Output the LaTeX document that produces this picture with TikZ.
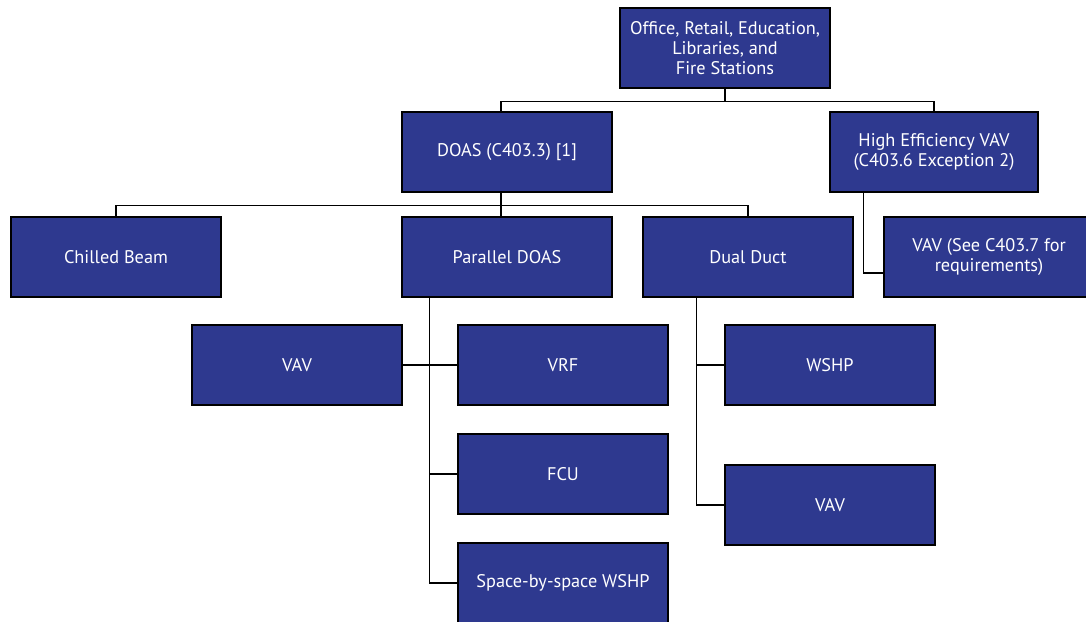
\documentclass[tikz,border=0pt]{standalone}
\usepackage{fontspec}
\setmainfont{PT Sans}
\usetikzlibrary{positioning, calc}
\definecolor{boxblue}{RGB}{46,57,143}
\tikzset{
  unitbox/.style={
    rectangle, draw=black, fill=boxblue, line width=0.9pt, minimum width=5.25cm,
    minimum height=2cm, align=center, text=white, font=\fontsize{13}{14}\selectfont,
    inner sep=2pt
  },
  link/.style={line width=0.8pt, draw=black}
}

\begin{document}
\begin{tikzpicture}[x=0.025cm, y=-0.025cm]
    \useasboundingbox (0,0) rectangle (1086,621);
    % top level
    \node[unitbox] (top) at (725,48) {Office, Retail, Education,\\Libraries, and\\Fire Stations};
    \node[unitbox] (doas) at (507,152) {DOAS (C403.3) [1]};
    \node[unitbox, minimum width=5.2cm] (hevav) at (934,152) {High Efficiency VAV\\(C403.6 Exception 2)};
    % second level
    \node[unitbox] (beam) at (116,257) {Chilled Beam};
    \node[unitbox] (pdoas) at (507,257) {Parallel DOAS};
    \node[unitbox] (dduct) at (748,257) {Dual Duct};
    \node[unitbox] (vavreq) at (989,257) {VAV (See C403.7 for\\requirements)};
    % third level
    \node[unitbox] (vavl) at (297,365) {VAV};
    \node[unitbox] (vrf) at (563,365) {VRF};
    \node[unitbox] (fcu) at (563,474) {FCU};
    \node[unitbox] (wshpss) at (563,583) {Space-by-space WSHP};
    \node[unitbox] (wshp) at (830,365) {WSHP};
    \node[unitbox] (vavr) at (830,505) {VAV};
    % connectors
    \draw[link] (top.south) -- ++(0,13) coordinate (j1);
    \draw[link] (j1) -| ($(doas.north)+(-6,0)$);
    \draw[link] (j1) -| (hevav.north);
    \draw[link] ($(doas.south)+(-6,0)$) -- ++(0,13) coordinate (j2);
    \draw[link] (j2) -| (beam.north);
    \draw[link] (j2) -- ($(pdoas.north)+(-6,0)$);
    \draw[link] (j2) -| (dduct.north);
    \coordinate (j3) at ($(hevav.south west)+(34,0)$);
    \draw[link] (j3) |- ($(vavreq.west)+(0,16)$);
    \coordinate (j4) at ($(pdoas.south west)+(28,0)$);
    \draw[link] (j4) |- (wshpss.west);
    \draw[link] (vavl.east) -- (vrf.west);
    \draw[link] (j4 |- fcu.west) -- (fcu.west);
    \coordinate (j5) at ($(dduct.south west)+(54,0)$);
    \draw[link] (j5) |- (vavr.west);
    \draw[link] (j5 |- wshp.west) -- (wshp.west);
\end{tikzpicture}
\end{document}
